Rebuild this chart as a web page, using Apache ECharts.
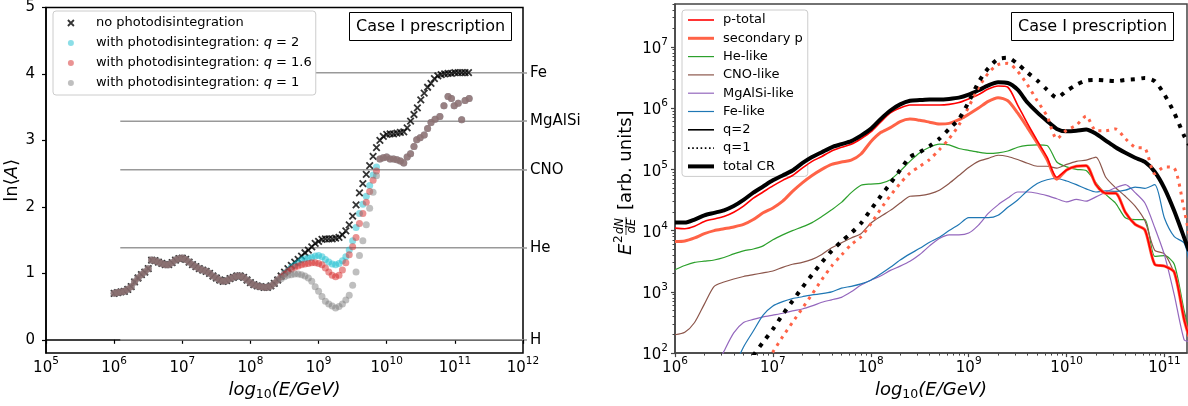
<!DOCTYPE html>
<html>
<head>
<meta charset="utf-8">
<script src="https://cdn.jsdelivr.net/npm/echarts@6.0.0/dist/echarts.min.js"></script>
<style>
  html, body { margin: 0; padding: 0; background: #fff; }
  #main { width: 1188px; height: 406px; }
</style>
</head>
<body>
<div id="main"></div>
<script>
var FONT = 'DejaVu Sans';

// ---- left panel: <ln A> against log10(E/GeV) ----
var gridE = [
  6.00, 6.05, 6.10, 6.15, 6.20, 6.25, 6.30, 6.35, 6.40, 6.45,
  6.50, 6.55, 6.60, 6.65, 6.70, 6.75, 6.80, 6.85, 6.90, 6.95,
  7.00, 7.05, 7.10, 7.15, 7.20, 7.25, 7.30, 7.35, 7.40, 7.45,
  7.50, 7.55, 7.60, 7.65, 7.70, 7.75, 7.80, 7.85, 7.90, 7.95,
  8.00, 8.05, 8.10, 8.15, 8.20, 8.25, 8.30, 8.35, 8.40, 8.45,
  8.50, 8.55, 8.60, 8.65, 8.70, 8.75, 8.80, 8.85, 8.90, 8.95,
  9.00, 9.05, 9.10, 9.15, 9.20, 9.25, 9.30, 9.35, 9.40, 9.45,
  9.50, 9.55, 9.60, 9.65, 9.70, 9.75, 9.80, 9.85, 9.90, 9.95,
  10.00, 10.05, 10.10, 10.15, 10.20, 10.25, 10.30, 10.35, 10.40, 10.45,
  10.50, 10.55, 10.60, 10.65, 10.70, 10.75, 10.80, 10.85, 10.90, 10.95,
  11.00, 11.05, 11.10, 11.15, 11.20
];
var lnA_none = [
  0.70, 0.71, 0.72, 0.73, 0.76, 0.80, 0.87, 0.93, 0.98, 1.02,
  1.07, 1.20, 1.19, 1.17, 1.15, 1.13, 1.13, 1.16, 1.20, 1.22,
  1.23, 1.21, 1.17, 1.13, 1.10, 1.07, 1.05, 1.03, 1.00, 0.96,
  0.93, 0.90, 0.88, 0.89, 0.92, 0.94, 0.96, 0.96, 0.94, 0.90,
  0.86, 0.83, 0.81, 0.80, 0.79, 0.79, 0.81, 0.85, 0.90, 0.96,
  1.02, 1.07, 1.12, 1.17, 1.21, 1.26, 1.31, 1.35, 1.40, 1.45,
  1.48, 1.51, 1.52, 1.52, 1.52, 1.53, 1.54, 1.58, 1.64, 1.73,
  1.86, 2.03, 2.21, 2.35, 2.49, 2.62, 2.76, 2.89, 3.00, 3.06,
  3.09, 3.10, 3.10, 3.11, 3.12, 3.13, 3.19, 3.29, 3.39, 3.49,
  3.61, 3.71, 3.80, 3.86, 3.93, 3.97, 3.99, 4.00, 4.01, 4.01,
  4.02, 4.02, 4.02, 4.02, 4.02
];
// below 10^8.45 the three photodisintegration runs sit on the no-photodisintegration points
var sharedLowCount = 49;
var midE = [
  8.45, 8.50, 8.55, 8.60, 8.65, 8.70, 8.75, 8.80, 8.85, 8.90,
  8.95, 9.00, 9.05, 9.10, 9.15, 9.20, 9.25, 9.30, 9.35, 9.40,
  9.45, 9.50, 9.55, 9.60, 9.65, 9.70, 9.75, 9.80, 9.85
];
var lnA_q2 = [
  0.95, 1.00, 1.04, 1.09, 1.12, 1.16, 1.20, 1.22, 1.23, 1.24,
  1.26, 1.27, 1.25, 1.21, 1.17, 1.14, 1.13, 1.15, 1.19, 1.25,
  1.35, 1.49, 1.69, 1.90, 2.04, 2.16, 2.32, 2.48, 2.60
];
var lnA_q16 = [
  0.95, 0.99, 1.03, 1.06, 1.09, 1.11, 1.13, 1.14, 1.15, 1.16,
  1.16, 1.15, 1.13, 1.08, 1.02, 0.97, 0.95, 0.97, 1.05, 1.16,
  1.28, 1.40, 1.54, 1.75, 1.90, 2.07, 2.23, 2.40, 2.54
];
var lnA_q1 = [
  0.92, 0.95, 0.97, 0.98, 0.99, 0.99, 0.98, 0.96, 0.93, 0.88,
  0.80, 0.73, 0.65, 0.58, 0.54, 0.51, 0.48, 0.50, 0.54, 0.60,
  0.67, 0.82, 1.02, 1.27, 1.49, 1.73, 1.98, 2.22, 2.47
];
// above 10^9.9 the three photodisintegration runs coincide
var highE = [
  9.90, 9.95, 10.00, 10.05, 10.10, 10.15, 10.20, 10.25, 10.30, 10.35,
  10.40, 10.44, 10.49, 10.55, 10.60, 10.65, 10.71, 10.78, 10.84, 10.90,
  10.95, 10.99, 11.05, 11.10, 11.15, 11.21
];
var lnA_high = [
  2.72, 2.74, 2.75, 2.72, 2.72, 2.71, 2.69, 2.66, 2.75, 2.80,
  2.91, 3.01, 3.04, 3.08, 3.18, 3.27, 3.32, 3.36, 3.52, 3.66,
  3.63, 3.52, 3.56, 3.31, 3.60, 3.63
];
var elementNames = ['H', 'He', 'CNO', 'MgAlSi', 'Fe'];
var elementLnA = [0, 1.386, 2.56, 3.29, 4.02];
var elementLineStart = 6.09;
var leftTicksX = [5, 6, 7, 8, 9, 10, 11, 12];
var leftTicksY = [0, 1, 2, 3, 4, 5];

// ---- right panel: log10(E^2 dN/dE) against log10(E/GeV) ----
var specE = [
  6.0, 6.1, 6.2, 6.3, 6.4, 6.5, 6.6, 6.7, 6.8, 6.9,
  7.0, 7.1, 7.2, 7.3, 7.4, 7.5, 7.6, 7.7, 7.8, 7.9,
  8.0, 8.1, 8.2, 8.3, 8.4, 8.5, 8.6, 8.7, 8.8, 8.9,
  9.0, 9.1, 9.2, 9.3, 9.4, 9.5, 9.6, 9.7, 9.8, 9.9,
  10.0, 10.1, 10.2, 10.3, 10.4, 10.5, 10.6, 10.7, 10.8, 10.9,
  11.0, 11.1, 11.2, 11.25
];
var totalCR = [
  4.13, 4.13, 4.18, 4.25, 4.29, 4.33, 4.40, 4.50, 4.62, 4.72,
  4.82, 4.90, 4.98, 5.10, 5.20, 5.28, 5.36, 5.41, 5.46, 5.55,
  5.66, 5.82, 5.96, 6.06, 6.12, 6.13, 6.14, 6.14, 6.15, 6.17,
  6.22, 6.29, 6.37, 6.42, 6.41, 6.30, 6.09, 5.93, 5.79, 5.66,
  5.62, 5.63, 5.65, 5.58, 5.47, 5.36, 5.27, 5.19, 5.12, 4.96,
  4.69, 4.32, 3.89, 3.67
];
var pTotal = [
  4.04, 4.03, 4.07, 4.15, 4.19, 4.23, 4.30, 4.40, 4.53, 4.63,
  4.73, 4.82, 4.90, 5.02, 5.13, 5.21, 5.30, 5.36, 5.41, 5.50,
  5.61, 5.77, 5.92, 6.00, 6.05, 6.05, 6.05, 6.05, 6.06, 6.09,
  6.15, 6.22, 6.31, 6.36, 6.34, 6.05, 5.75, 5.47, 5.20, 4.87,
  4.99, 5.05, 5.06, 4.75, 4.61, 4.61, 4.30, 4.10, 4.01, 3.45,
  3.42, 3.32, 2.55, 2.27
];
var secondaryP = [
  3.82, 3.83, 3.88, 3.95, 4.00, 4.03, 4.06, 4.10, 4.18, 4.29,
  4.37, 4.48, 4.64, 4.78, 4.90, 5.00, 5.08, 5.12, 5.15, 5.25,
  5.45, 5.60, 5.68, 5.78, 5.82, 5.80, 5.77, 5.74, 5.75, 5.81,
  5.90, 6.00, 6.11, 6.17, 6.12, 5.92, 5.68, 5.43, 5.16, 4.84,
  4.99, 5.05, 5.06, 4.75, 4.61, 4.61, 4.30, 4.10, 4.01, 3.45,
  3.42, 3.32, 2.55, 2.27
];
var heLike = [
  3.36, 3.43, 3.48, 3.50, 3.52, 3.56, 3.62, 3.67, 3.70, 3.75,
  3.85, 3.93, 4.00, 4.06, 4.13, 4.23, 4.34, 4.46, 4.62, 4.74,
  4.76, 4.77, 4.83, 4.97, 5.13, 5.27, 5.36, 5.41, 5.40, 5.34,
  5.31, 5.28, 5.26, 5.27, 5.30, 5.36, 5.39, 5.40, 5.39, 5.12,
  5.04, 5.00, 4.98, 4.78, 4.59, 4.45, 4.21, 4.18, 4.18, 3.58,
  3.59, 3.45, 2.70, 2.40
];
var cnoLike = [
  2.30, 2.34, 2.50, 2.80, 3.09, 3.16, 3.21, 3.25, 3.28, 3.31,
  3.34, 3.40, 3.45, 3.48, 3.53, 3.61, 3.72, 3.80, 3.88, 3.95,
  4.12, 4.23, 4.33, 4.45, 4.56, 4.57, 4.60, 4.66, 4.77, 4.90,
  5.03, 5.13, 5.18, 5.23, 5.21, 5.16, 5.10, 5.05, 5.05, 5.02,
  5.08, 5.13, 5.15, 5.20, 4.87, 4.70, 4.56, 4.40, 4.16, 3.68,
  3.62, 3.30, 2.65, 2.35
];
var mgalsiLike = [
  null, null, null, null, 1.70, 2.03, 2.33, 2.50, 2.55, 2.59,
  2.62, 2.65, 2.69, 2.72, 2.77, 2.83, 2.87, 2.91, 3.00, 3.11,
  3.19, 3.26, 3.35, 3.42, 3.50, 3.61, 3.75, 3.87, 3.93, 3.93,
  3.96, 4.09, 4.28, 4.42, 4.53, 4.63, 4.63, 4.61, 4.57, 4.52,
  4.47, 4.51, 4.48, 4.55, 4.63, 4.70, 4.75, 4.62, 4.45, 4.05,
  3.60, 2.95, 2.22, 2.19
];
var feLike = [
  null, null, null, null, null, null, 1.75, 2.10, 2.36, 2.62,
  2.77, 2.84, 2.89, 2.92, 2.95, 2.97, 3.00, 3.06, 3.09, 3.13,
  3.19, 3.29, 3.40, 3.52, 3.62, 3.71, 3.81, 3.89, 4.00, 4.10,
  4.21, 4.21, 4.21, 4.25, 4.38, 4.50, 4.65, 4.77, 4.83, 4.85,
  4.81, 4.75, 4.68, 4.63, 4.65, 4.64, 4.66, 4.71, 4.69, 4.75,
  4.20, 3.90, 3.80, 3.51
];
var totalCR_q1 = [
  null, null, null, null, null, null, null, null, 1.96, 2.18,
  2.39, 2.63, 2.85, 3.07, 3.28, 3.48, 3.67, 3.82, 3.96, 4.12,
  4.34, 4.56, 4.77, 4.99, 5.20, 5.28, 5.38, 5.50, 5.66, 5.82,
  6.10, 6.42, 6.65, 6.80, 6.82, 6.72, 6.58, 6.45, 6.30, 6.17,
  6.28, 6.38, 6.45, 6.46, 6.45, 6.44, 6.46, 6.47, 6.49, 6.44,
  6.22, 5.92, 5.55, 5.40
];
var secondaryP_q1 = [
  null, null, null, null, null, null, null, null, null, 1.80,
  2.02, 2.27, 2.50, 2.73, 2.96, 3.20, 3.42, 3.60, 3.77, 3.90,
  4.11, 4.35, 4.57, 4.77, 4.94, 5.05, 5.16, 5.32, 5.50, 5.72,
  6.02, 6.33, 6.57, 6.71, 6.73, 6.60, 6.38, 6.12, 5.87, 5.50,
  5.64, 5.72, 5.87, 5.63, 5.63, 5.66, 5.50, 5.36, 5.34, 4.93,
  5.04, 5.02, 4.35, 3.95
];
var rightTicksX = [6, 7, 8, 9, 10, 11];
var rightTicksY = [2, 3, 4, 5, 6, 7];
var rightMinE = 6, rightMaxE = 11.23;
var rightMinY = 2, rightMaxY = 7.699;

function pairs(xs, ys) {
  var out = [];
  for (var i = 0; i < xs.length; i++) {
    if (ys[i] != null) out.push([xs[i], ys[i]]);
  }
  return out;
}
function minorLogTicks(lo, hi) {
  var out = [];
  for (var n = Math.floor(lo); n < hi; n++) {
    for (var k = 2; k <= 9; k++) {
      var v = n + Math.log10(k);
      if (v > lo && v < hi) out.push(v);
    }
  }
  return out;
}
function powLabel(v) {
  return '{b|10}{s|' + Math.round(v) + '}';
}

var powRich = {
  b: { fontFamily: FONT, fontSize: 15, lineHeight: 20, verticalAlign: 'bottom', color: '#000' },
  s: { fontFamily: FONT, fontSize: 10.5, lineHeight: 10, verticalAlign: 'top', color: '#000' }
};
var logTitle = '{i|log}{s|10}{i|(E/GeV)}';
var logTitleRich = {
  i: { fontFamily: FONT, fontStyle: 'italic', fontSize: 18, lineHeight: 22, color: '#000' },
  s: { fontFamily: FONT, fontSize: 12.5, lineHeight: 8, verticalAlign: 'bottom', color: '#000' }
};

var lowE = gridE.slice(0, sharedLowCount);
var lowA = lnA_none.slice(0, sharedLowCount);
function photoSeries(name, color, midA) {
  return {
    name: name, type: 'scatter', xAxisIndex: 0, yAxisIndex: 0,
    symbol: 'circle', symbolSize: 7,
    itemStyle: { color: color, opacity: 0.5 },
    data: pairs(lowE, lowA).concat(pairs(midE, midA), pairs(highE, lnA_high)),
    z: 3
  };
}
function specLine(name, data, color, width, dash, z) {
  return {
    name: name, type: 'line', xAxisIndex: 1, yAxisIndex: 2,
    data: pairs(specE, data), symbol: 'none', smooth: 0.25,
    lineStyle: { color: color, width: width, type: dash || 'solid' },
    itemStyle: { color: color }, z: z || 2
  };
}

var leftNames = ['no photodisintegration', 'with photodisintegration: q=2',
  'with photodisintegration: q=1.6', 'with photodisintegration: q=1'];
var rightNames = ['p-total', 'secondary p', 'He-like', 'CNO-like', 'MgAlSi-like',
  'Fe-like', 'q=2', 'q=1', 'total CR'];

var series = [];
elementLnA.forEach(function (v, i) {
  series.push({
    name: elementNames[i] + ' level', type: 'line', xAxisIndex: 0, yAxisIndex: 0,
    data: [[elementLineStart, v], [12, v]], symbol: 'none', silent: true,
    lineStyle: { color: '#999', width: 1.5 }, z: 1
  });
});
series.push({
  name: leftNames[0], type: 'scatter', xAxisIndex: 0, yAxisIndex: 0,
  symbol: 'path://M0,0L10,10M10,0L0,10', symbolSize: 6.5,
  itemStyle: { color: '#000', borderColor: '#000', borderWidth: 1.8 },
  data: pairs(gridE, lnA_none), z: 2
});
series.push(photoSeries(leftNames[1], '#17becf', lnA_q2));
series.push(photoSeries(leftNames[2], '#d62728', lnA_q16));
series.push(photoSeries(leftNames[3], '#7f7f7f', lnA_q1));

series.push(specLine('He-like', heLike, '#2ca02c', 1.2));
series.push(specLine('CNO-like', cnoLike, '#8c564b', 1.2));
series.push(specLine('MgAlSi-like', mgalsiLike, '#9467bd', 1.2));
series.push(specLine('Fe-like', feLike, '#1f77b4', 1.2));
series.push(specLine('secondary p', secondaryP, '#ff6347', 3, 'solid', 3));
series.push(specLine('p-total', pTotal, '#ff0000', 1.6, 'solid', 4));
series.push(specLine('total CR', totalCR, '#000', 4, 'solid', 5));
series.push(specLine('secondary p (q=1)', secondaryP_q1, '#ff6347', 3, [3, 5], 6));
series.push(specLine('total CR (q=1)', totalCR_q1, '#000', 4, [4, 6.6], 7));
// legend-only entries for the line styles
series.push(specLine('q=2', [], '#000', 1.6, 'solid'));
series.push(specLine('q=1', [], '#000', 1.6, [1.6, 2.6]));

var chart = echarts.init(document.getElementById('main'), null, { renderer: 'canvas' });
chart.setOption({
  backgroundColor: '#fff',
  animation: false,
  textStyle: { fontFamily: FONT },
  title: [
    { text: 'Case I prescription', left: 349, top: 12, padding: [5, 7], borderColor: '#000', borderWidth: 1,
      textStyle: { fontFamily: FONT, fontSize: 16, fontWeight: 'normal', color: '#000', lineHeight: 19 } },
    { text: 'Case I prescription', left: 1011, top: 12, padding: [5, 7], borderColor: '#000', borderWidth: 1,
      textStyle: { fontFamily: FONT, fontSize: 16, fontWeight: 'normal', color: '#000', lineHeight: 19 } }
  ],
  legend: [
    {
      orient: 'vertical', left: 53, top: 11, padding: [5, 4, 5, 14],
      itemWidth: 6, itemHeight: 6, itemGap: 6,
      backgroundColor: '#fff', borderColor: '#ccc', borderWidth: 1, borderRadius: 3,
      selectedMode: false, data: leftNames,
      itemStyle: { borderWidth: 'inherit' },
      textStyle: {
        fontFamily: FONT, fontSize: 13, color: '#000', lineHeight: 14, padding: [0, 0, 0, 17],
        rich: { i: { fontFamily: FONT, fontSize: 13, fontStyle: 'italic', lineHeight: 14, color: '#000' } }
      },
      formatter: function (name) {
        var m = name.match(/q=(.*)$/);
        return m ? 'with photodisintegration: {i|q} = ' + m[1] : name;
      }
    },
    {
      orient: 'vertical', left: 682, top: 10, padding: [3, 5, 3, 4],
      itemWidth: 26, itemHeight: 14, itemGap: 4.3,
      backgroundColor: '#fff', borderColor: '#ccc', borderWidth: 1, borderRadius: 3,
      selectedMode: false, data: rightNames,
      lineStyle: { width: 'inherit' },
      itemStyle: { opacity: 0 },
      textStyle: { fontFamily: FONT, fontSize: 13, color: '#000', lineHeight: 14, padding: [0, 0, 0, 4] }
    }
  ],
  grid: [
    { left: 46, top: 4, width: 477, height: 356, show: true, borderColor: '#000', borderWidth: 1.5, containLabel: false },
    { left: 675, top: 4, width: 512, height: 353, show: true, borderColor: '#444', borderWidth: 1.5, containLabel: false }
  ],
  xAxis: [
    {
      gridIndex: 0, type: 'value', min: 5, max: 12, position: 'bottom',
      axisLine: { show: true, lineStyle: { color: '#000', width: 1.5 } },
      axisTick: { show: true, length: 4, customValues: leftTicksX, lineStyle: { color: '#000', width: 1.2 } },
      axisLabel: { customValues: leftTicksX, margin: 3, formatter: powLabel, rich: powRich },
      splitLine: { show: false },
      name: logTitle, nameLocation: 'middle', nameGap: 24, nameTextStyle: { rich: logTitleRich }
    },
    {
      gridIndex: 1, type: 'value', min: rightMinE, max: rightMaxE, position: 'bottom',
      axisLine: { show: true, lineStyle: { color: '#444', width: 1.5 } },
      axisTick: { show: true, length: 4, customValues: rightTicksX, lineStyle: { color: '#444', width: 1.2 } },
      axisLabel: { customValues: rightTicksX, margin: 3, formatter: powLabel, rich: powRich },
      splitLine: { show: false },
      name: logTitle, nameLocation: 'middle', nameGap: 24, nameTextStyle: { rich: logTitleRich }
    },
    {
      gridIndex: 1, type: 'value', min: rightMinE, max: rightMaxE, position: 'bottom',
      axisLine: { show: false },
      axisTick: { show: true, length: 2.5, customValues: minorLogTicks(rightMinE, rightMaxE), lineStyle: { color: '#444', width: 1 } },
      axisLabel: { show: false }, splitLine: { show: false }
    }
  ],
  yAxis: [
    {
      gridIndex: 0, type: 'value', min: -0.2, max: 5, position: 'left',
      axisLine: { show: true, lineStyle: { color: '#000', width: 1.5 } },
      axisTick: { show: true, length: 4, customValues: leftTicksY, lineStyle: { color: '#000', width: 1.2 } },
      axisLabel: { customValues: leftTicksY, margin: 11, fontFamily: FONT, fontSize: 15, color: '#000' },
      splitLine: { show: false },
      name: '{r|ln⟨}{i|A}{r|⟩}', nameLocation: 'middle', nameRotate: 90, nameGap: 22,
      nameTextStyle: { rich: {
        r: { fontFamily: FONT, fontSize: 18, color: '#000' },
        i: { fontFamily: FONT, fontSize: 18, fontStyle: 'italic', color: '#000' }
      } }
    },
    {
      gridIndex: 0, type: 'value', min: -0.2, max: 5, position: 'right',
      axisLine: { show: false },
      axisTick: { show: true, length: 4, customValues: elementLnA, lineStyle: { color: '#999', width: 1.5 } },
      axisLabel: {
        customValues: elementLnA, margin: 7, fontFamily: FONT, fontSize: 15, color: '#000',
        formatter: function (v) {
          for (var i = 0; i < elementLnA.length; i++) {
            if (Math.abs(elementLnA[i] - v) < 1e-6) return elementNames[i];
          }
          return '';
        }
      },
      splitLine: { show: false }
    },
    {
      gridIndex: 1, type: 'value', min: rightMinY, max: rightMaxY, position: 'left',
      axisLine: { show: true, lineStyle: { color: '#444', width: 1.5 } },
      axisTick: { show: true, length: 4, customValues: rightTicksY, lineStyle: { color: '#444', width: 1.2 } },
      axisLabel: { customValues: rightTicksY, margin: 7, formatter: powLabel, rich: powRich },
      splitLine: { show: false }
    },
    {
      gridIndex: 1, type: 'value', min: rightMinY, max: rightMaxY, position: 'left',
      axisLine: { show: false },
      axisTick: { show: true, length: 2.5, customValues: minorLogTicks(rightMinY, rightMaxY), lineStyle: { color: '#444', width: 1 } },
      axisLabel: { show: false }, splitLine: { show: false }
    }
  ],
  graphic: [
    {
      type: 'group', x: 626, y: 181, rotation: Math.PI / 2,
      children: [
        { type: 'text', x: -74, y: 0, style: { text: 'E', font: 'italic 18px "DejaVu Sans"', fill: '#000', verticalAlign: 'middle' } },
        { type: 'text', x: -62, y: -7, style: { text: '2', font: '12px "DejaVu Sans"', fill: '#000', verticalAlign: 'middle' } },
        { type: 'text', x: -45, y: -6, style: { text: 'dN', font: 'italic 11.5px "DejaVu Sans"', fill: '#000', align: 'center', verticalAlign: 'middle' } },
        { type: 'line', shape: { x1: -54, y1: 0, x2: -36, y2: 0 }, style: { stroke: '#000', lineWidth: 0.8 } },
        { type: 'text', x: -45, y: 6.5, style: { text: 'dE', font: 'italic 11.5px "DejaVu Sans"', fill: '#000', align: 'center', verticalAlign: 'middle' } },
        { type: 'text', x: -29, y: 0, style: { text: '[arb. units]', font: '18px "DejaVu Sans"', fill: '#000', verticalAlign: 'middle' } }
      ]
    }
  ],
  series: series
});
</script>
</body>
</html>
